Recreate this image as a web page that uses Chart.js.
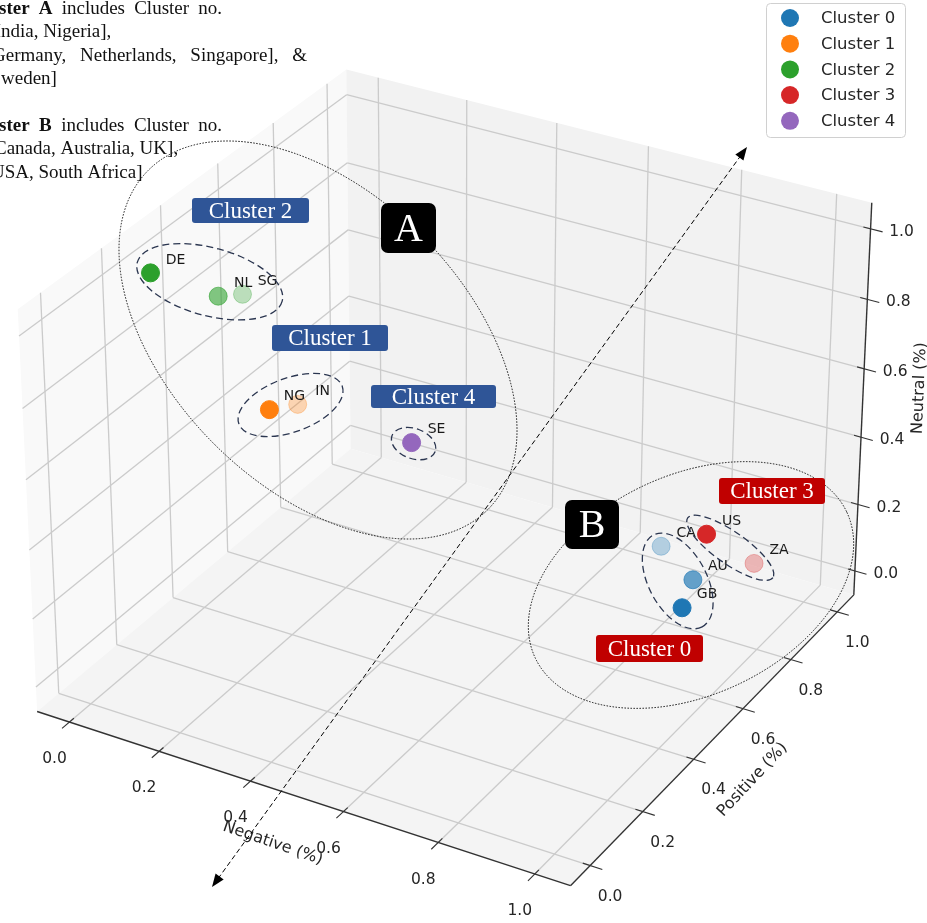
<!DOCTYPE html>
<html>
<head>
<meta charset="utf-8">
<script src="https://cdn.jsdelivr.net/npm/chart.js@4.4.1/dist/chart.umd.min.js"></script>
<style>
  html, body { margin: 0; padding: 0; background: #ffffff; overflow: hidden; }
  #wrap { position: relative; width: 927px; height: 923px; }
</style>
</head>
<body>
<div id="wrap"><canvas id="chart" width="927" height="923"></canvas></div>
<script>
// ---------------- data ----------------
const countries    = ['GB', 'AU', 'CA', 'NG', 'IN', 'DE', 'NL', 'SG', 'US', 'ZA', 'SE'];
const clusterOf    = [0, 0, 0, 1, 1, 2, 2, 2, 3, 3, 4];
const negative     = [1.00, 0.96, 0.84, 0.19, 0.19, 0.00, 0.05, 0.04, 0.86, 0.89, 0.41];
const positive     = [0.48, 0.60, 0.70, 0.35, 0.45, 0.25, 0.40, 0.50, 0.85, 1.00, 0.50];
const neutral      = [0.28, 0.26, 0.24, 0.62, 0.57, 1.00, 0.86, 0.80, 0.18, 0.00, 0.51];
const clusterNames = ['Cluster 0', 'Cluster 1', 'Cluster 2', 'Cluster 3', 'Cluster 4'];
const clusterColors = ['#1f77b4', '#ff7f0e', '#2ca02c', '#d62728', '#9467bd'];
const tickValues   = [0, 0.2, 0.4, 0.6, 0.8, 1.0];
const tickLabels   = ['0.0', '0.2', '0.4', '0.6', '0.8', '1.0'];
const axisTitles   = { x: 'Negative (%)', y: 'Positive (%)', z: 'Neutral (%)' };

// ---------------- 3D view ----------------
const W = 927, H = 923;
const LO = -0.073, HI = 1.073;            // axis limits (same for all three axes)
const ASPECT = [1, 1, 0.75];               // box aspect x : y : z
const VIEW = { elev: 30, azim: -60, dist: 8.4, scale: 611, cx: 453, cy: 458 };

function project(x, y, z) {
  const R = HI - LO;
  const u = ((x - LO) / R - 0.5) * ASPECT[0];
  const v = ((y - LO) / R - 0.5) * ASPECT[1];
  const w = ((z - LO) / R - 0.5) * ASPECT[2];
  const e = VIEW.elev * Math.PI / 180, a = VIEW.azim * Math.PI / 180;
  const right = -Math.sin(a) * u + Math.cos(a) * v;
  const up = -Math.sin(e) * Math.cos(a) * u - Math.sin(e) * Math.sin(a) * v + Math.cos(e) * w;
  const depth = Math.cos(e) * Math.cos(a) * u + Math.cos(e) * Math.sin(a) * v + Math.sin(e) * w;
  const f = VIEW.dist / (VIEW.dist - depth);
  return { x: VIEW.cx + VIEW.scale * f * right, y: VIEW.cy - VIEW.scale * f * up, depth };
}

function rgba(hex, a) {
  const n = parseInt(hex.slice(1), 16);
  return `rgba(${(n >> 16) & 255},${(n >> 8) & 255},${n & 255},${a})`;
}

const projected = countries.map((c, i) => project(negative[i], positive[i], neutral[i]));

// one scatter dataset per cluster, shaded by depth (nearest point fully opaque)
const datasets = clusterNames.map((name, k) => {
  const idx = countries.map((_, i) => i).filter(i => clusterOf[i] === k);
  idx.sort((p, q) => projected[p].depth - projected[q].depth);
  const ds = idx.map(i => projected[i].depth);
  const dmax = Math.max(...ds), dmin = Math.min(...ds);
  const alpha = idx.map(i => dmax === dmin ? 1 : 1 - 0.7 * (dmax - projected[i].depth) / (dmax - dmin));
  return {
    label: name,
    data: idx.map(i => ({ x: projected[i].x, y: projected[i].y, name: countries[i] })),
    pointRadius: 9,
    pointHoverRadius: 9,
    pointBackgroundColor: alpha.map(a => rgba(clusterColors[k], a)),
    pointBorderColor: alpha.map(a => rgba(clusterColors[k], a)),
    pointBorderWidth: 1,
    showLine: false
  };
});

// ---------------- annotation layout ----------------
const rings = [   // dashed ring round each cluster: offset from projected centroid, radii, tilt (deg)
  { k: 0, dx: -1, dy: 3, rx: 52, ry: 29, rot: 62 },
  { k: 1, dx: 7, dy: -2, rx: 55, ry: 27, rot: -20 },
  { k: 2, dx: 6, dy: -6, rx: 75, ry: 34, rot: 15 },
  { k: 3, dx: 0, dy: -1, rx: 52, ry: 16, rot: 35 },
  { k: 4, dx: 2, dy: 1, rx: 23, ry: 15, rot: 20 }
];
const groups = [  // dotted outline of the two cluster groups
  { cx: 318, cy: 340, rx: 240, ry: 147, rot: 45 },
  { cx: 691, cy: 585, rx: 172, ry: 110, rot: -25 }
];
const tags = [
  { text: 'Cluster 2', x0: 192, y0: 198, x1: 309, y1: 223, fill: '#2f5597' },
  { text: 'Cluster 1', x0: 272, y0: 325, x1: 388, y1: 351, fill: '#2f5597' },
  { text: 'Cluster 4', x0: 371, y0: 385, x1: 496, y1: 408, fill: '#2f5597' },
  { text: 'Cluster 3', x0: 719, y0: 478, x1: 825, y1: 504, fill: '#c00000' },
  { text: 'Cluster 0', x0: 596, y0: 635, x1: 703, y1: 662, fill: '#c00000' }
];
const letters = [
  { text: 'A', x0: 381, y0: 203, x1: 436, y1: 253 },
  { text: 'B', x0: 565, y0: 500, x1: 619, y1: 549 }
];
const arrow = { x0: 747, y0: 147, x1: 212, y1: 887 };

const notes = [
  { lead: [['Clu', 'b']], words: [['ster', 'b'], ['A', 'b'], ['includes', 'n'], ['Cluster', 'n'], ['no.', 'n']], x: -1, justify: 222 },
  { lead: [['1 [I', 'n']], words: [['ndia,', 'n'], ['Nigeria],', 'n']], x: 1 },
  { lead: [['2 [', 'n']], words: [['Germany,', 'n'], ['Netherlands,', 'n'], ['Singapore],', 'n'], ['&', 'n']], x: -8, justify: 307 },
  { lead: [['4 [S', 'n']], words: [['weden]', 'n']], x: 1 },
  null,
  { lead: [['Clu', 'b']], words: [['ster', 'b'], ['B', 'b'], ['includes', 'n'], ['Cluster', 'n'], ['no.', 'n']], x: -1, justify: 222 },
  { lead: [['0 [', 'n']], words: [['Canada,', 'n'], ['Australia,', 'n'], ['UK],', 'n']], x: -6 },
  { lead: [['3 [', 'n']], words: [['USA,', 'n'], ['South', 'n'], ['Africa]', 'n']], x: -9 }
];

const SANS = '"DejaVu Sans", sans-serif';
const SERIF = '"Liberation Serif", "DejaVu Serif", serif';

const scenePlugin = {
  id: 'scene',
  beforeDatasetsDraw(chart) {
    const ctx = chart.ctx, sx = chart.scales.x, sy = chart.scales.y;
    const P = (x, y, z) => { const p = project(x, y, z); return [sx.getPixelForValue(p.x), sy.getPixelForValue(p.y)]; };
    const poly = (pts, fill) => {
      ctx.beginPath();
      pts.forEach((q, i) => { const [a, b] = P(...q); i ? ctx.lineTo(a, b) : ctx.moveTo(a, b); });
      ctx.closePath(); ctx.fillStyle = fill; ctx.fill();
    };
    const seg = (p, q) => {
      const [a, b] = P(...p), [c, d] = P(...q);
      ctx.beginPath(); ctx.moveTo(a, b); ctx.lineTo(c, d); ctx.stroke();
    };
    ctx.save();
    // panes
    poly([[LO, LO, LO], [LO, HI, LO], [LO, HI, HI], [LO, LO, HI]], '#f9f9f9');
    poly([[LO, HI, LO], [HI, HI, LO], [HI, HI, HI], [LO, HI, HI]], '#f2f2f2');
    poly([[LO, LO, LO], [HI, LO, LO], [HI, HI, LO], [LO, HI, LO]], '#f4f4f4');
    // grid
    ctx.strokeStyle = '#cbcbcb'; ctx.lineWidth = 1.3;
    tickValues.forEach(t => {
      seg([t, LO, LO], [t, HI, LO]); seg([t, HI, LO], [t, HI, HI]);
      seg([LO, t, LO], [HI, t, LO]); seg([LO, t, LO], [LO, t, HI]);
      seg([LO, LO, t], [LO, HI, t]); seg([LO, HI, t], [HI, HI, t]);
    });
    // axis lines
    ctx.strokeStyle = '#333333'; ctx.lineWidth = 1.4;
    seg([LO, LO, LO], [HI, LO, LO]);
    seg([HI, LO, LO], [HI, HI, LO]);
    seg([HI, HI, LO], [HI, HI, HI]);
    // ticks
    ctx.lineWidth = 1.1;
    tickValues.forEach(t => {
      seg([t, LO + 0.015, LO], [t, LO - 0.025, LO]);
      seg([HI - 0.015, t, LO], [HI + 0.025, t, LO]);
      seg([HI - 0.015, HI, t], [HI + 0.025, HI, t]);
    });
    // tick labels
    ctx.fillStyle = '#262626'; ctx.font = `15.5px ${SANS}`;
    ctx.textAlign = 'center'; ctx.textBaseline = 'middle';
    tickValues.forEach((t, i) => {
      let [a, b] = P(t, LO, LO); ctx.fillText(tickLabels[i], a - 15, b + 37);
      [a, b] = P(HI, t, LO); ctx.fillText(tickLabels[i], a + 20, b + 31);
      [a, b] = P(HI, HI, t); ctx.fillText(tickLabels[i], a + 31, b + 3);
    });
    // axis titles
    ctx.font = `16px ${SANS}`;
    const title = (txt, x, y, deg) => {
      ctx.save(); ctx.translate(x, y); ctx.rotate(deg * Math.PI / 180);
      ctx.fillText(txt, 0, 0); ctx.restore();
    };
    let [a, b] = P(0.5, LO, LO); title(axisTitles.x, a - 24, b + 47, 19);
    [a, b] = P(HI, 0.5, LO); title(axisTitles.y, a + 34, b + 46, -47);
    [a, b] = P(HI, HI, 0.5); title(axisTitles.z, a + 57, b - 15, -87.5);
    ctx.restore();
  },
  afterDatasetsDraw(chart) {
    const ctx = chart.ctx, sx = chart.scales.x, sy = chart.scales.y;
    const X = v => sx.getPixelForValue(v), Y = v => sy.getPixelForValue(v);
    ctx.save();
    // country codes next to points
    ctx.fillStyle = '#1a1a1a'; ctx.font = `14px ${SANS}`;
    ctx.textAlign = 'center'; ctx.textBaseline = 'middle';
    countries.forEach((c, i) => ctx.fillText(c, X(projected[i].x) + 25, Y(projected[i].y) - 13));
    // dashed rings round the clusters
    ctx.strokeStyle = '#2b3650'; ctx.lineWidth = 1.3; ctx.setLineDash([7, 4]);
    rings.forEach(r => {
      const idx = countries.map((_, i) => i).filter(i => clusterOf[i] === r.k);
      const mx = idx.reduce((s, i) => s + projected[i].x, 0) / idx.length;
      const my = idx.reduce((s, i) => s + projected[i].y, 0) / idx.length;
      ctx.beginPath();
      ctx.ellipse(X(mx + r.dx), Y(my + r.dy), r.rx, r.ry, r.rot * Math.PI / 180, 0, Math.PI * 2);
      ctx.stroke();
    });
    // dotted group outlines
    ctx.strokeStyle = '#111111'; ctx.lineWidth = 1; ctx.setLineDash([1.5, 1.5]);
    groups.forEach(g => {
      ctx.beginPath();
      ctx.ellipse(X(g.cx), Y(g.cy), g.rx, g.ry, g.rot * Math.PI / 180, 0, Math.PI * 2);
      ctx.stroke();
    });
    // dashed double-headed arrow
    ctx.setLineDash([5, 3]); ctx.lineWidth = 1; ctx.strokeStyle = '#000';
    const ax0 = X(arrow.x0), ay0 = Y(arrow.y0), ax1 = X(arrow.x1), ay1 = Y(arrow.y1);
    const ang = Math.atan2(ay1 - ay0, ax1 - ax0);
    ctx.beginPath();
    ctx.moveTo(ax0 + 10 * Math.cos(ang), ay0 + 10 * Math.sin(ang));
    ctx.lineTo(ax1 - 10 * Math.cos(ang), ay1 - 10 * Math.sin(ang));
    ctx.stroke();
    ctx.setLineDash([]); ctx.fillStyle = '#000';
    const head = (x, y, th) => {
      ctx.beginPath(); ctx.moveTo(x, y);
      ctx.lineTo(x - 13 * Math.cos(th) + 5 * Math.sin(th), y - 13 * Math.sin(th) - 5 * Math.cos(th));
      ctx.lineTo(x - 13 * Math.cos(th) - 5 * Math.sin(th), y - 13 * Math.sin(th) + 5 * Math.cos(th));
      ctx.closePath(); ctx.fill();
    };
    head(ax0, ay0, ang + Math.PI);
    head(ax1, ay1, ang);
    // cluster tags
    const rrect = (x0, y0, x1, y1, r) => {
      ctx.beginPath(); ctx.roundRect(x0, y0, x1 - x0, y1 - y0, r);
    };
    ctx.textAlign = 'center'; ctx.textBaseline = 'middle';
    tags.forEach(t => {
      rrect(X(t.x0), Y(t.y0), X(t.x1), Y(t.y1), 3); ctx.fillStyle = t.fill; ctx.fill();
      ctx.fillStyle = '#ffffff'; ctx.font = `23px ${SERIF}`;
      ctx.fillText(t.text, (X(t.x0) + X(t.x1)) / 2, (Y(t.y0) + Y(t.y1)) / 2 + 1);
    });
    letters.forEach(t => {
      rrect(X(t.x0), Y(t.y0), X(t.x1), Y(t.y1), 7); ctx.fillStyle = '#000000'; ctx.fill();
      ctx.fillStyle = '#ffffff'; ctx.font = `40px ${SERIF}`;
      ctx.fillText(t.text, (X(t.x0) + X(t.x1)) / 2, (Y(t.y0) + Y(t.y1)) / 2 + 2);
    });
    // legend
    ctx.beginPath(); ctx.roundRect(766.5, 3.5, 139, 134, 4);
    ctx.fillStyle = 'rgba(255,255,255,0.85)'; ctx.fill();
    ctx.strokeStyle = '#d0d0d0'; ctx.lineWidth = 1; ctx.stroke();
    ctx.textAlign = 'left'; ctx.font = `16.5px ${SANS}`;
    chart.data.datasets.forEach((ds, k) => {
      const yy = 18 + k * 25.7;
      ctx.beginPath(); ctx.arc(790, yy, 9, 0, Math.PI * 2);
      ctx.fillStyle = clusterColors[k]; ctx.fill();
      ctx.fillStyle = '#262626'; ctx.fillText(ds.label, 821, yy + 1);
    });
    // note block at the top left
    ctx.fillStyle = '#111111'; ctx.textBaseline = 'alphabetic';
    const fnt = s => (s === 'b' ? 'bold ' : '') + `19px ${SERIF}`;
    notes.forEach((ln, i) => {
      if (!ln) return;
      const base = 14 + i * 23.4;
      let leadW = 0;
      ln.lead.forEach(([t, s]) => { ctx.font = fnt(s); leadW += ctx.measureText(t).width; });
      let x = ln.x - leadW;
      ln.lead.forEach(([t, s]) => { ctx.font = fnt(s); ctx.fillText(t, x, base); x += ctx.measureText(t).width; });
      ctx.font = fnt('n');
      let gap = ctx.measureText(' ').width;
      const widths = ln.words.map(([t, s]) => { ctx.font = fnt(s); return ctx.measureText(t).width; });
      if (ln.justify) gap = (ln.justify - ln.x - widths.reduce((p, q) => p + q, 0)) / (ln.words.length - 1);
      x = ln.x;
      ln.words.forEach(([t, s], j) => { ctx.font = fnt(s); ctx.fillText(t, x, base); x += widths[j] + gap; });
    });
    ctx.restore();
  }
};

new Chart(document.getElementById('chart').getContext('2d'), {
  type: 'scatter',
  data: { datasets },
  options: {
    responsive: false,
    animation: false,
    events: [],
    layout: { padding: 0, autoPadding: false },
    scales: {
      x: { type: 'linear', min: 0, max: W, display: false },
      y: { type: 'linear', min: 0, max: H, reverse: true, display: false }
    },
    plugins: { legend: { display: false }, tooltip: { enabled: false } }
  },
  plugins: [scenePlugin]
});
</script>
</body>
</html>
